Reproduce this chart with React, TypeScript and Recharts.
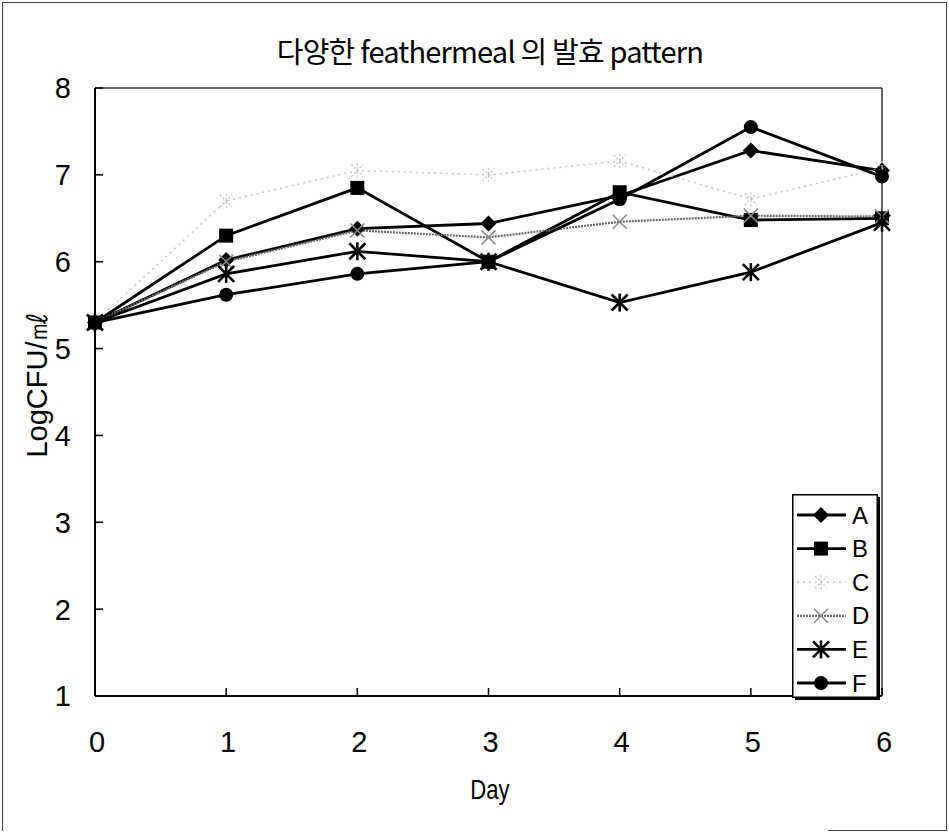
import React from 'react';
import { LineChart, Line, XAxis, YAxis, ReferenceLine, Legend } from 'recharts';

// Days of fermentation
const days = [0, 1, 2, 3, 4, 5, 6];

// Log CFU per ml for each feathermeal
const seriesA = [5.3, 6.02, 6.38, 6.44, 6.76, 7.28, 7.05];
const seriesB = [5.3, 6.3, 6.85, 6.0, 6.8, 6.48, 6.5];
const seriesC = [5.3, 6.7, 7.05, 7.0, 7.16, 6.72, 7.08];
const seriesD = [5.3, 6.0, 6.36, 6.28, 6.46, 6.53, 6.52];
const seriesE = [5.3, 5.86, 6.12, 6.0, 5.53, 5.88, 6.45];
const seriesF = [5.3, 5.62, 5.86, 6.0, 6.72, 7.55, 6.98];

const seriesNames = ['A', 'B', 'C', 'D', 'E', 'F'];
const yTicks = [1, 2, 3, 4, 5, 6, 7, 8];
const xTicks = [0, 1, 2, 3, 4, 5, 6];

const titleText = '다양한 feathermeal 의 발효 pattern';
const xTitle = 'Day';
const yTitle = 'LogCFU/㎖';

const data = days.map((d, i) => ({
  day: d,
  A: seriesA[i],
  B: seriesB[i],
  C: seriesC[i],
  D: seriesD[i],
  E: seriesE[i],
  F: seriesF[i],
}));

type MarkerKind = 'diamond' | 'square' | 'faint' | 'cross' | 'asterisk' | 'circle';

const styles: Record<string, { color: string; width: number; dash?: string; marker: MarkerKind }> = {
  A: { color: '#000', width: 2.8, marker: 'diamond' },
  B: { color: '#000', width: 2.8, marker: 'square' },
  C: { color: '#c8c8c8', width: 1.6, dash: '2 4', marker: 'faint' },
  D: { color: '#6a6a6a', width: 2.2, dash: '2 1', marker: 'cross' },
  E: { color: '#000', width: 2.8, marker: 'asterisk' },
  F: { color: '#000', width: 2.8, marker: 'circle' },
};

const FONT = '"Liberation Sans", Arial, sans-serif';

function Marker({ kind, cx, cy }: { kind: MarkerKind; cx: number; cy: number }) {
  if (cx == null || cy == null) return null;
  switch (kind) {
    case 'diamond':
      return <polygon points={`${cx},${cy - 8} ${cx + 8},${cy} ${cx},${cy + 8} ${cx - 8},${cy}`} fill="#000" />;
    case 'square':
      return <rect x={cx - 7} y={cy - 7} width={14} height={14} fill="#000" />;
    case 'circle':
      return <circle cx={cx} cy={cy} r={7} fill="#000" />;
    case 'cross':
      return (
        <g stroke="#8a8a8a" strokeWidth={1.6}>
          <line x1={cx - 7} y1={cy - 7} x2={cx + 7} y2={cy + 7} />
          <line x1={cx - 7} y1={cy + 7} x2={cx + 7} y2={cy - 7} />
        </g>
      );
    case 'asterisk':
      return (
        <g stroke="#000" strokeWidth={2.6}>
          <line x1={cx - 8} y1={cy - 8} x2={cx + 8} y2={cy + 8} />
          <line x1={cx - 8} y1={cy + 8} x2={cx + 8} y2={cy - 8} />
          <line x1={cx} y1={cy - 9} x2={cx} y2={cy + 9} />
        </g>
      );
    case 'faint':
      return (
        <g stroke="#c4c4c4" strokeWidth={1.2} strokeDasharray="2 2">
          <line x1={cx - 6} y1={cy - 6} x2={cx + 6} y2={cy + 6} />
          <line x1={cx - 6} y1={cy + 6} x2={cx + 6} y2={cy - 6} />
          <line x1={cx} y1={cy - 7} x2={cx} y2={cy + 7} />
        </g>
      );
    default:
      return null;
  }
}

function YTick(props: any) {
  const { x, y, payload } = props;
  return (
    <g>
      <line x1={x} y1={y} x2={x + 8} y2={y} stroke="#000" strokeWidth={1.5} />
      <text x={x - 24} y={y} dy="0.36em" textAnchor="end" fontFamily={FONT} fontSize={29} fill="#000">
        {payload.value}
      </text>
    </g>
  );
}

function XTick(props: any) {
  const { x, y, payload } = props;
  return (
    <g>
      <line x1={x} y1={y} x2={x} y2={y - 8} stroke="#000" strokeWidth={1.5} />
      <text x={x + 2} y={y + 46} dy="0.36em" textAnchor="middle" fontFamily={FONT} fontSize={29} fill="#000">
        {payload.value}
      </text>
    </g>
  );
}

function LegendBox() {
  const w = 85;
  const h = 203;
  return (
    <svg width={w + 4} height={h + 4} style={{ display: 'block' }}>
      <rect x={3} y={3} width={w} height={h} fill="#000" />
      <rect x={0.75} y={0.75} width={w - 0.5} height={h - 0.5} fill="#fff" stroke="#000" strokeWidth={1.5} />
      {seriesNames.map((name, i) => {
        const s = styles[name];
        const cy = 21 + i * 33.6;
        return (
          <g key={name}>
            <line x1={5} y1={cy} x2={54} y2={cy} stroke={s.color} strokeWidth={s.width} strokeDasharray={s.dash} />
            <Marker kind={s.marker} cx={29} cy={cy} />
            <text x={60} y={cy} dy="0.36em" fontFamily={FONT} fontSize={24} fill="#000">
              {name}
            </text>
          </g>
        );
      })}
    </svg>
  );
}

export default function App() {
  return (
    <div style={{ position: 'absolute', left: 0, top: 0, width: 949, height: 834, background: '#fff' }}>
      {/* outer frame */}
      <div
        style={{
          position: 'absolute',
          left: 2,
          top: 2,
          width: 943,
          height: 828,
          borderLeft: '1px solid #444',
          borderTop: '1px solid #444',
          borderRight: '1.5px solid #444',
        }}
      />
      <div style={{ position: 'absolute', left: 828, top: 830, width: 118, height: 0, borderTop: '1.5px solid #444' }} />

      <div
        style={{
          position: 'absolute',
          left: 0,
          top: 32,
          width: 980,
          textAlign: 'center',
          fontFamily: '"Noto Sans CJK KR", sans-serif',
          fontSize: 29,
          lineHeight: '36px',
          color: '#000',
          letterSpacing: -0.8,
        }}
      >
        {titleText}
      </div>

      <div
        style={{
          position: 'absolute',
          left: 38,
          top: 385,
          transform: 'translate(-50%, -50%) rotate(-90deg)',
          fontFamily: FONT,
          fontSize: 29,
          whiteSpace: 'nowrap',
          color: '#000',
        }}
      >
        {yTitle}
      </div>

      <div
        style={{
          position: 'absolute',
          left: 490,
          top: 790,
          transform: 'translate(-50%, -50%) scaleX(0.82)',
          fontFamily: FONT,
          fontSize: 27,
          color: '#000',
        }}
      >
        {xTitle}
      </div>

      <LineChart
        width={949}
        height={834}
        data={data}
        margin={{ top: 88, right: 67, bottom: 78, left: 35 }}
        style={{ position: 'absolute', left: 0, top: 0 }}
      >
        <XAxis
          dataKey="day"
          type="number"
          domain={[0, 6]}
          ticks={xTicks}
          height={60}
          tickSize={0}
          tickMargin={0}
          tickLine={false}
          axisLine={{ stroke: '#000', strokeWidth: 2 }}
          tick={<XTick />}
          interval={0}
        />
        <YAxis
          type="number"
          domain={[1, 8]}
          ticks={yTicks}
          width={60}
          tickSize={0}
          tickMargin={0}
          tickLine={false}
          axisLine={{ stroke: '#000', strokeWidth: 2 }}
          tick={<YTick />}
          interval={0}
        />
        <ReferenceLine y={8} stroke="#333" strokeWidth={1.5} ifOverflow="extendDomain" />
        <ReferenceLine x={6} stroke="#333" strokeWidth={1.5} ifOverflow="extendDomain" />
        {seriesNames.map((name) => {
          const s = styles[name];
          return (
            <Line
              key={name}
              dataKey={name}
              type="linear"
              stroke={s.color}
              strokeWidth={s.width}
              strokeDasharray={s.dash}
              isAnimationActive={false}
              dot={(p: any) => <Marker key={`${name}-${p.index}`} kind={s.marker} cx={p.cx} cy={p.cy} />}
              activeDot={false}
            />
          );
        })}
        <Legend
          layout="vertical"
          align="center"
          verticalAlign="middle"
          wrapperStyle={{ position: 'absolute', left: 792, top: 494, width: 'auto', height: 'auto' }}
          content={() => <LegendBox />}
        />
      </LineChart>
    </div>
  );
}
